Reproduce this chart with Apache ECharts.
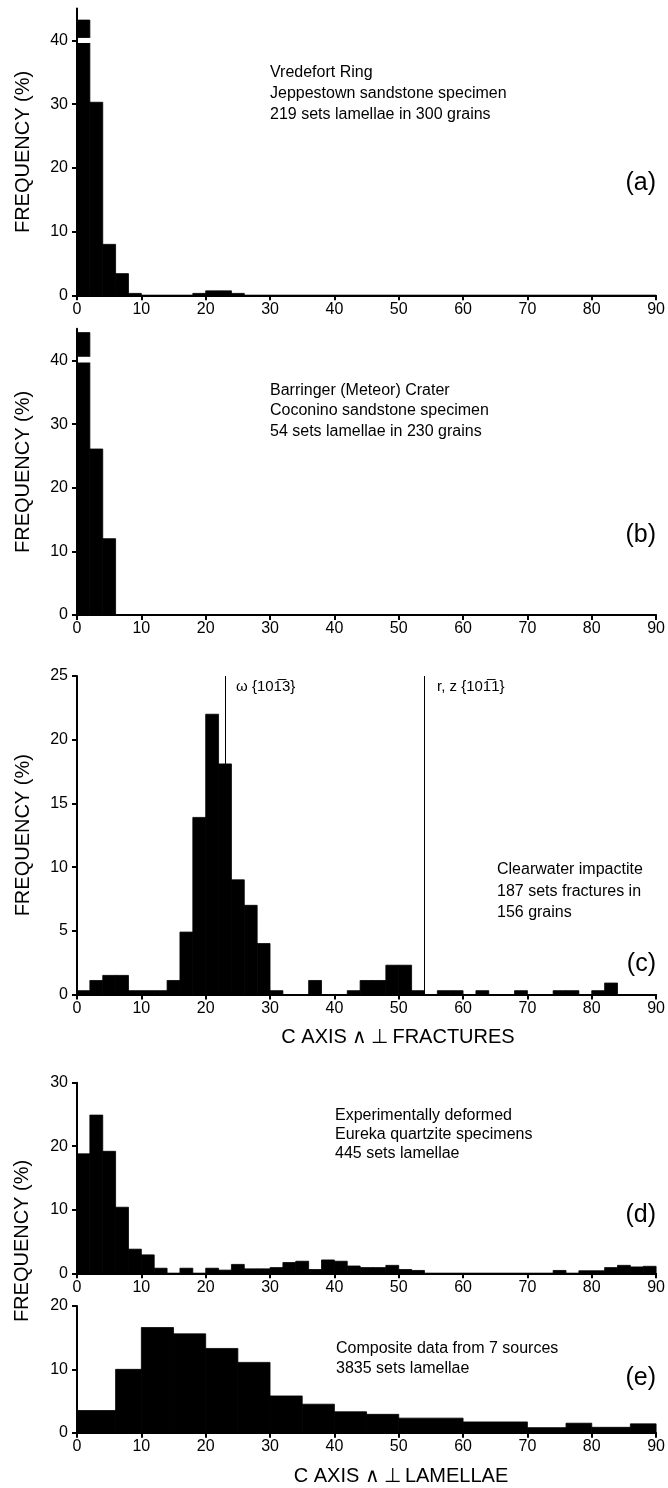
<!DOCTYPE html>
<html>
<head>
<meta charset="utf-8">
<script src="https://cdn.jsdelivr.net/npm/echarts@6/dist/echarts.min.js"></script>
<style>
  html, body { margin: 0; padding: 0; background: #fff; }
  #chart { width: 668px; height: 1488px; }
</style>
</head>
<body>
<div id="chart"></div>
<script>
'use strict';

// ── Data (frequency %, 2° bins unless noted) ──────────────────────────────────
const binWidth = 2;

// (a) Vredefort Ring, Jeppestown sandstone
const freqA = [43.2, 30.3, 8.0, 3.4, 0.3, 0, 0, 0, 0, 0.3, 0.7, 0.7, 0.3,
  0, 0, 0, 0, 0, 0, 0, 0, 0, 0, 0, 0, 0, 0, 0, 0, 0, 0, 0, 0,
  0, 0, 0, 0, 0, 0, 0, 0, 0, 0, 0, 0];

// (b) Barringer (Meteor) Crater, Coconino sandstone
const freqB = [44.4, 26.1, 12.0,
  0, 0, 0, 0, 0, 0, 0, 0, 0, 0, 0, 0, 0, 0, 0, 0, 0, 0, 0, 0,
  0, 0, 0, 0, 0, 0, 0, 0, 0, 0, 0, 0, 0, 0, 0, 0, 0, 0, 0, 0, 0, 0];

// (c) Clearwater impactite
const freqC = [0.3, 1.1, 1.5, 1.5, 0.3, 0.3, 0.3, 1.1, 4.9, 13.9,
  22.0, 18.1, 9.0, 7.0, 4.0, 0.3, 0, 0, 1.1, 0,
  0, 0.3, 1.1, 1.1, 2.3, 2.3, 0.3, 0, 0.3, 0.3,
  0, 0.3, 0, 0, 0.3, 0, 0, 0.3, 0.3, 0,
  0.3, 0.9, 0, 0, 0];

// (d) Experimentally deformed Eureka quartzite
const freqD = [18.8, 24.9, 19.2, 10.4, 3.8, 2.9, 0.8, 0, 0.8, 0,
  0.8, 0.5, 1.4, 0.7, 0.7, 0.9, 1.7, 1.9, 0.6, 2.1,
  1.9, 1.15, 0.9, 0.9, 1.25, 0.6, 0.45, 0, 0, 0,
  0, 0, 0, 0, 0, 0, 0, 0.45, 0, 0.4,
  0.4, 0.9, 1.25, 1.0, 1.1];

// (e) Composite data, uneven bins
const edgesE = [0, 6, 10, 15, 20, 25, 30, 35, 40, 45, 50, 60, 70, 76, 80, 86, 90];
const freqE  = [3.5, 10.0, 16.6, 15.6, 13.3, 11.1, 5.8, 4.5, 3.3, 2.9, 2.3, 1.7, 0.8, 1.5, 0.85, 1.4];

// axis breaks drawn on the over-range first bins: [x0, x1, yLow, yHigh]
const breakA = [0, 2, 39.6, 40.4];
const breakB = [0, 2, 39.7, 40.6];

// crystallographic planes in (c)
const planeOmega = 23;
const planeRZ    = 54;

const xTicks = [0, 10, 20, 30, 40, 50, 60, 70, 80, 90];
const yTicksAB = [0, 10, 20, 30, 40];

const FONT = "'Liberation Sans', Arial, Helvetica, sans-serif";

// ── Helpers ───────────────────────────────────────────────────────────────────
function evenBins(vals) {
  return vals.map((v, i) => [i * binWidth, (i + 1) * binWidth, v]);
}
function unevenBins(edges, vals) {
  return vals.map((v, i) => [edges[i], edges[i + 1], v]);
}

function renderBin(params, api) {
  const p0 = api.coord([api.value(0), 0]);
  const p1 = api.coord([api.value(1), api.value(2)]);
  return {
    type: 'rect',
    shape: { x: p0[0], y: p1[1], width: p1[0] - p0[0], height: p0[1] - p1[1] },
    style: { fill: '#000', stroke: '#000', lineWidth: 0.8 }
  };
}
function renderBreak(params, api) {
  const p0 = api.coord([api.value(0), api.value(3)]);
  const p1 = api.coord([api.value(1), api.value(2)]);
  return {
    type: 'rect',
    shape: { x: p0[0] + 1, y: p0[1], width: p1[0] - p0[0] + 1, height: p1[1] - p0[1] },
    style: { fill: '#fff' }
  };
}

function histSeries(idx, data) {
  return {
    type: 'custom', xAxisIndex: idx, yAxisIndex: idx,
    renderItem: renderBin, encode: { x: [0, 1], y: 2 },
    data, silent: true, animation: false
  };
}
function breakSeries(idx, b) {
  return {
    type: 'custom', xAxisIndex: idx, yAxisIndex: idx, z: 3,
    renderItem: renderBreak, encode: { x: [0, 1], y: [2, 3] },
    data: [b], silent: true, animation: false
  };
}

function xAxisFor(idx) {
  return {
    gridIndex: idx, type: 'value', min: 0, max: 90, interval: 10,
    axisLine:  { show: true, onZero: false, lineStyle: { color: '#000', width: 2 } },
    axisTick:  { show: true, length: 5, lineStyle: { color: '#000', width: 2 } },
    axisLabel: { color: '#000', fontSize: 16, margin: 6, fontFamily: FONT, customValues: xTicks },
    splitLine: { show: false }
  };
}
function yAxisFor(idx, max, ticks, name) {
  return {
    gridIndex: idx, type: 'value', min: 0, max,
    axisLine:  { show: true, lineStyle: { color: '#000', width: 2 } },
    axisTick:  { show: true, length: 5, lineStyle: { color: '#000', width: 2 }, customValues: ticks },
    axisLabel: { color: '#000', fontSize: 16, margin: 9, fontFamily: FONT, customValues: ticks },
    splitLine: { show: false },
    name: name || '', nameLocation: 'middle', nameGap: 44,
    nameTextStyle: { color: '#000', fontSize: 20, fontFamily: FONT }
  };
}

function note(x, y, text, lh) {
  return {
    type: 'text', x, y, silent: true,
    style: { text, fill: '#000', font: `16px ${FONT}`, lineHeight: lh || 21 }
  };
}
function panelTag(y, text) {
  return {
    type: 'text', x: 656, y, silent: true,
    style: { text, fill: '#000', font: `25px ${FONT}`, align: 'right', verticalAlign: 'middle' }
  };
}
function axisTitle(x, y, text) {
  return {
    type: 'text', x, y, silent: true,
    style: { text, fill: '#000', font: `20px ${FONT}`, align: 'center', verticalAlign: 'middle' }
  };
}

// ── Chart ─────────────────────────────────────────────────────────────────────
const chart = echarts.init(document.getElementById('chart'), null, { renderer: 'canvas' });

const planeLine = (x) => [{ coord: [x, 0] }, { coord: [x, 25] }];

chart.setOption({
  backgroundColor: '#fff',
  animation: false,
  grid: [
    { left: 77, right: 10, top: 8.6,  height: 286.7 },
    { left: 77, right: 10, top: 328.8, height: 286.2 },
    { left: 77, right: 10, top: 676,  height: 318.5 },
    { left: 77, right: 10, top: 1082.7, height: 190.6 },
    { left: 77, right: 10, top: 1306, height: 126.7 }
  ],
  xAxis: [xAxisFor(0), xAxisFor(1), xAxisFor(2), xAxisFor(3), xAxisFor(4)],
  yAxis: [
    yAxisFor(0, 45, yTicksAB, 'FREQUENCY (%)'),
    yAxisFor(1, 45, yTicksAB, 'FREQUENCY (%)'),
    yAxisFor(2, 25, [0, 5, 10, 15, 20, 25], 'FREQUENCY (%)'),
    yAxisFor(3, 30, [0, 10, 20, 30]),
    yAxisFor(4, 20, [0, 10, 20])
  ],
  series: [
    histSeries(0, evenBins(freqA)),
    breakSeries(0, breakA),
    histSeries(1, evenBins(freqB)),
    breakSeries(1, breakB),
    Object.assign(histSeries(2, evenBins(freqC)), {
      markLine: {
        silent: true, symbol: 'none', animation: false,
        lineStyle: { color: '#000', width: 1, type: 'solid' },
        label: { show: false },
        data: [planeLine(planeOmega), planeLine(planeRZ)]
      }
    }),
    histSeries(3, evenBins(freqD)),
    histSeries(4, unevenBins(edgesE, freqE))
  ],
  graphic: [
    note(270, 62, 'Vredefort Ring\nJeppestown sandstone specimen\n219 sets lamellae in 300 grains'),
    note(270, 380, 'Barringer (Meteor) Crater\nCoconino sandstone specimen\n54 sets lamellae in 230 grains', 20.5),
    note(497, 859, 'Clearwater impactite\n187 sets fractures in\n156 grains', 21.5),
    note(335, 1106, 'Experimentally deformed\nEureka quartzite specimens\n445 sets lamellae', 19),
    note(336, 1339, 'Composite data from 7 sources\n3835 sets lamellae', 20),
    {
      type: 'text', x: 236, y: 679, silent: true,
      style: { text: '\u03C9 {101\u03053}', fill: '#000', font: `15px ${FONT}` }
    },
    {
      type: 'text', x: 437, y: 679, silent: true,
      style: { text: 'r, z {101\u03051}', fill: '#000', font: `15px ${FONT}` }
    },
    axisTitle(398, 1037, 'C AXIS \u2227\u2009\u22A5\u2009FRACTURES'),
    axisTitle(401, 1476, 'C AXIS \u2227\u2009\u22A5\u2009LAMELLAE'),
    {
      type: 'text', x: 22, y: 1241, rotation: Math.PI / 2, silent: true,
      style: { text: 'FREQUENCY (%)', fill: '#000', font: `20px ${FONT}`, align: 'center', verticalAlign: 'middle' }
    },
    panelTag(183, '(a)'),
    panelTag(535, '(b)'),
    panelTag(964, '(c)'),
    panelTag(1215, '(d)'),
    panelTag(1378, '(e)')
  ]
});

window.addEventListener('resize', () => chart.resize());
</script>
</body>
</html>
